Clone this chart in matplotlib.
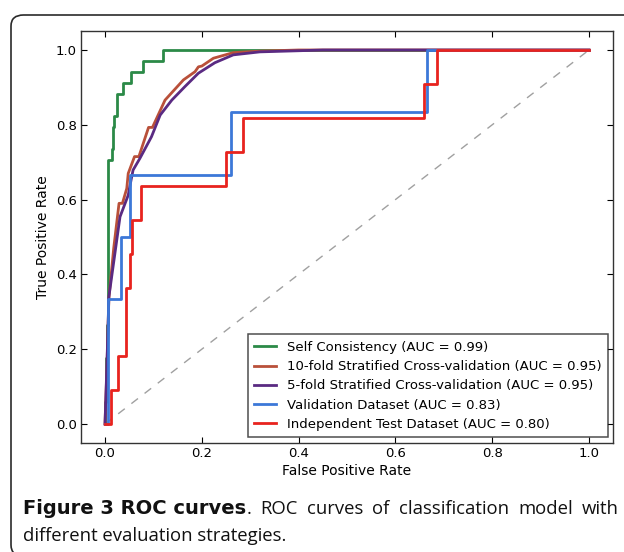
import matplotlib
matplotlib.use("Agg")
import matplotlib.pyplot as plt
from matplotlib.patches import FancyBboxPatch

# ---------------- data ----------------
self_fpr = [0, 0, 0.002, 0.002, 0.0035, 0.0035, 0.0055, 0.0055, 0.0138, 0.0138, 0.016, 0.016,
            0.018, 0.018, 0.024, 0.024, 0.038, 0.038, 0.053, 0.053, 0.079, 0.079, 0.12, 0.12, 1.0]
self_tpr = [0, 0.059, 0.059, 0.176, 0.176, 0.265, 0.265, 0.706, 0.706, 0.735, 0.735, 0.794,
            0.794, 0.824, 0.824, 0.882, 0.882, 0.912, 0.912, 0.941, 0.941, 0.971, 0.971, 1.0, 1.0]

cv10_fpr = [0, 0.004, 0.008, 0.018, 0.029, 0.036, 0.045, 0.048, 0.061, 0.070, 0.090, 0.098,
            0.124, 0.138, 0.162, 0.186, 0.193, 0.200, 0.224, 0.265, 0.32, 0.40, 1.0]
cv10_tpr = [0, 0.15, 0.336, 0.47, 0.590, 0.590, 0.63, 0.670, 0.715, 0.715, 0.793, 0.793,
            0.866, 0.886, 0.920, 0.942, 0.955, 0.957, 0.978, 0.993, 0.997, 1.0, 1.0]

cv5_fpr = [0, 0.004, 0.008, 0.031, 0.048, 0.052, 0.058, 0.072, 0.096, 0.114, 0.138, 0.165,
           0.193, 0.227, 0.265, 0.32, 0.40, 0.45, 1.0]
cv5_tpr = [0, 0.16, 0.34, 0.554, 0.612, 0.640, 0.679, 0.710, 0.768, 0.826, 0.866, 0.902,
           0.938, 0.966, 0.987, 0.995, 0.998, 1.0, 1.0]

val_fpr = [0, 0.007, 0.007, 0.034, 0.034, 0.052, 0.052, 0.260, 0.260, 0.666, 0.666, 1.0]
val_tpr = [0, 0, 0.333, 0.333, 0.5, 0.5, 0.667, 0.667, 0.833, 0.833, 1.0, 1.0]

test_fpr = [0, 0.012, 0.012, 0.026, 0.026, 0.043, 0.043, 0.052, 0.052, 0.055, 0.055, 0.074,
            0.074, 0.251, 0.251, 0.286, 0.286, 0.660, 0.660, 0.685, 0.685, 1.0]
test_tpr = [0, 0, 0.091, 0.091, 0.182, 0.182, 0.364, 0.364, 0.455, 0.455, 0.545, 0.545,
            0.636, 0.636, 0.727, 0.727, 0.818, 0.818, 0.909, 0.909, 1.0, 1.0]

labels = ["Self Consistency (AUC = 0.99)",
          "10-fold Stratified Cross-validation (AUC = 0.95)",
          "5-fold Stratified Cross-validation (AUC = 0.95)",
          "Validation Dataset (AUC = 0.83)",
          "Independent Test Dataset (AUC = 0.80)"]
colors = ["#2b8a47", "#b9503a", "#5a2a82", "#3c78d8", "#e8231e"]
ticks = [0.0, 0.2, 0.4, 0.6, 0.8, 1.0]
tick_labels = ["0.0", "0.2", "0.4", "0.6", "0.8", "1.0"]

caption_bold = "Figure 3 ROC curves"
caption_line1 = ". ROC curves of classification model with"
caption_line2 = "different evaluation strategies."

# ---------------- figure ----------------
plt.rcParams['font.family'] = 'DejaVu Sans'
W, H = 624, 552
fig = plt.figure(figsize=(W / 100, H / 100), dpi=100)

# rounded frame
frame = FancyBboxPatch((11 / W, (H - 556) / H), 700 / W, 541 / H,
                       boxstyle="round,pad=0,rounding_size=0.02",
                       transform=fig.transFigure, fill=False, edgecolor="#2a2a2a",
                       linewidth=1.2, clip_on=False)
fig.patches.append(frame)

ax = fig.add_axes([80.8 / W, (H - 442.7) / H, (613.2 - 80.8) / W, (442.7 - 31.3) / H])
ax.plot([0, 1], [0, 1], linestyle=(0, (6, 6)), color="#a0a0a0", linewidth=1)
series = [(self_fpr, self_tpr), (cv10_fpr, cv10_tpr), (cv5_fpr, cv5_tpr),
          (val_fpr, val_tpr), (test_fpr, test_tpr)]
for (fx, ty), c, lab in zip(series, colors, labels):
    ax.plot(fx, ty, color=c, linewidth=2, label=lab)

ax.set_xlim(-0.05, 1.05)
ax.set_ylim(-0.05, 1.05)
ax.set_xticks(ticks)
ax.set_xticklabels(tick_labels)
ax.set_yticks(ticks)
ax.set_yticklabels(tick_labels)
ax.tick_params(direction="in", top=True, right=True, length=4, width=0.8, labelsize=9.5, pad=3)
for s in ax.spines.values():
    s.set_linewidth(1.0)
    s.set_color("#333333")
ax.set_xlabel("False Positive Rate", fontsize=10, labelpad=3)
ax.set_ylabel("True Positive Rate", fontsize=10, labelpad=4)

leg = ax.legend(loc="lower right", fontsize=9.5, frameon=True, fancybox=False,
                handlelength=1.65, handletextpad=0.8, borderpad=0.5, labelspacing=0.47,
                borderaxespad=0.4)
leg.get_frame().set_edgecolor("#222222")
leg.get_frame().set_linewidth(1.1)

# caption (line 1 justified between x=23 and x=619)
fig.canvas.draw()
r = fig.canvas.get_renderer()
x_left, x_right = 23, 619
y1 = (H - 514) / H
y2 = (H - 541) / H
cap_size = 13.3
pieces = [(caption_bold, "bold", "DejaVu Sans", 14, False),
          (".", "normal", "Open Sans", cap_size, True)]
for w in caption_line1[2:].split(" "):
    pieces.append((w, "normal", "Open Sans", cap_size, False))
tmp = []
total = 0
for txt, wt, fam, sz, glue in pieces:
    t = fig.text(0, y1, txt, fontsize=sz, fontweight=wt, family=fam, color="#111111")
    w = t.get_window_extent(renderer=r).width
    tmp.append((t, w, glue))
    total += w
n_gaps = sum(1 for _, _, g in tmp[1:] if not g)
gap = (x_right - x_left - total) / n_gaps
x = x_left
for i, (t, w, glue) in enumerate(tmp):
    if i > 0 and not glue:
        x += gap
    t.set_x(x / W)
    x += w
fig.text(x_left / W, y2, caption_line2, fontsize=cap_size, family="Open Sans", color="#111111")

fig.savefig("out.png", dpi=100)
